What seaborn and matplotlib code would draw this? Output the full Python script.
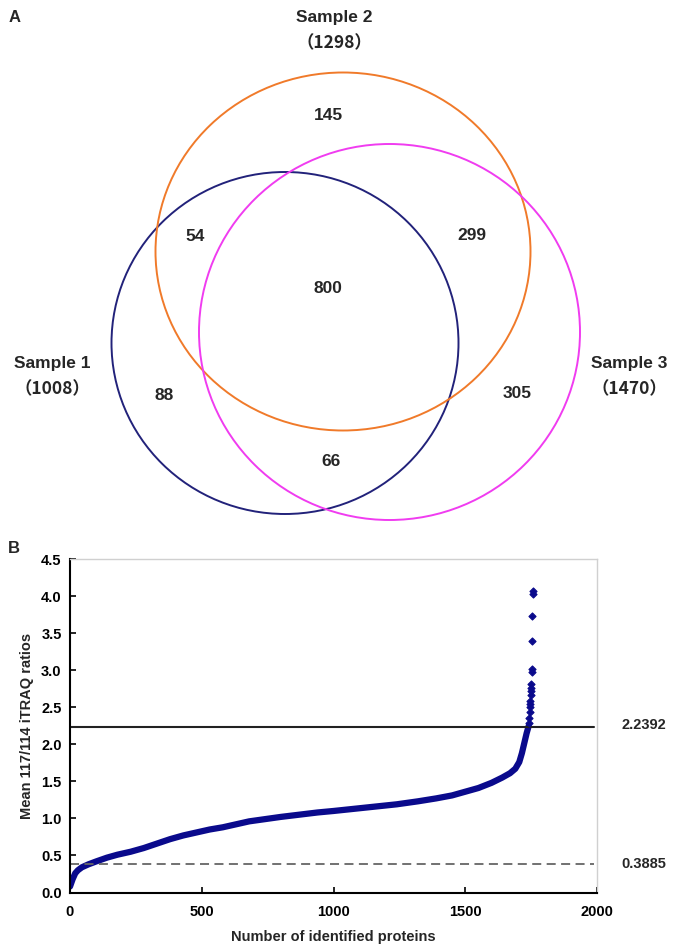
import matplotlib
matplotlib.use("Agg")
import matplotlib.pyplot as plt
from matplotlib.patches import Ellipse
import seaborn as sns
import pandas as pd

# ---------------- data ----------------
# Venn (panel A)
sample_names = ["Sample 1", "Sample 2", "Sample 3"]
sample_totals = [1008, 1298, 1470]
only_s1, only_s2, only_s3 = 88, 145, 305
s1_s2, s2_s3, s1_s3 = 54, 299, 66
all_three = 800

# Sorted mean ratio curve (panel B)
body_rank = [0, 5, 10, 20, 30, 45, 70, 100, 140, 180, 230, 280, 330, 380, 430,
             480, 530, 580, 630, 680, 740, 800, 870, 940, 1000, 1080, 1160,
             1240, 1320, 1390, 1450, 1500, 1550, 1600, 1640, 1670, 1690, 1705,
             1715, 1725, 1733, 1741]
body_ratio = [0.08, 0.13, 0.18, 0.26, 0.30, 0.34, 0.38, 0.42, 0.47, 0.51, 0.55,
              0.60, 0.66, 0.72, 0.77, 0.81, 0.85, 0.88, 0.92, 0.96, 0.99, 1.02,
              1.05, 1.08, 1.10, 1.13, 1.16, 1.19, 1.23, 1.27, 1.31, 1.36, 1.41,
              1.48, 1.55, 1.61, 1.67, 1.76, 1.88, 2.03, 2.15, 2.25]
tail_rank = [1742, 1743, 1744, 1745, 1746, 1747, 1748, 1749, 1750, 1751,
             1752, 1753, 1754, 1755, 1756, 1757]
tail_ratio = [2.29, 2.36, 2.43, 2.50, 2.54, 2.58, 2.67, 2.72, 2.76, 2.82,
              2.98, 3.01, 3.39, 3.73, 4.03, 4.07]
upper_cut = 2.2392
lower_cut = 0.3885
x_ticks = [0, 500, 1000, 1500, 2000]
y_ticks = [0.0, 0.5, 1.0, 1.5, 2.0, 2.5, 3.0, 3.5, 4.0, 4.5]

# ---------------- style ----------------
sns.set_style("white")
plt.rcParams["font.family"] = ["Liberation Sans", "Noto Sans CJK SC", "DejaVu Sans"]
plt.rcParams["font.weight"] = "bold"

W, H = 679, 947
fig = plt.figure(figsize=(W / 100, H / 100), dpi=100)

# ---------------- panel A: Venn ----------------
axv = fig.add_axes([0, 1 - 540 / H, 1, 540 / H])
axv.set_xlim(0, W)
axv.set_ylim(540, 0)
axv.axis("off")

circles = [
    ((285, 343), 347, 342, "#22227a"),   # Sample 1
    ((343, 251.5), 375, 358, "#f07a2a"),  # Sample 2
    ((389.5, 332), 381, 376, "#f03cf0"),  # Sample 3
]
for (c, w, h, col) in circles:
    axv.add_patch(Ellipse(c, w, h, fill=False, edgecolor=col, linewidth=1.4))

fs_big = 12.5
label_pos = [(52, 363, 389), (334, 17, 43), (629, 363, 389)]
for name, tot, (x, y1, y2) in zip(sample_names, sample_totals, label_pos):
    axv.text(x, y1, name, ha="center", va="center", fontsize=fs_big, fontweight="bold")
    axv.text(x, y2, f"（{tot}）", ha="center", va="center", fontsize=12.5,
             fontweight="bold", family=["Noto Sans CJK SC", "DejaVu Sans"])

region_vals = [only_s2, s1_s2, s2_s3, all_three, only_s1, only_s3, s1_s3]
region_pos = [(328, 115), (195, 236), (472, 235), (328, 288), (164, 395), (517, 393), (331, 461)]
for v, (x, y) in zip(region_vals, region_pos):
    axv.text(x, y, str(v), ha="center", va="center", fontsize=fs_big, fontweight="bold")

fig.text(15 / W, 1 - 17 / H, "A", ha="center", va="center", fontsize=12, fontweight="bold")
fig.text(14 / W, 1 - 548 / H, "B", ha="center", va="center", fontsize=12, fontweight="bold")

# ---------------- panel B: sorted ratios ----------------
left, right, top, bottom = 70, 597, 559, 892.5
ax = fig.add_axes([left / W, 1 - bottom / H, (right - left) / W, (bottom - top) / H])

navy = "#0a0a8c"
body = pd.DataFrame({"rank": body_rank, "ratio": body_ratio})
tail = pd.DataFrame({"rank": tail_rank, "ratio": tail_ratio})
sns.lineplot(data=body, x="rank", y="ratio", ax=ax, color=navy, linewidth=4.5,
             sort=False, solid_capstyle="round", solid_joinstyle="round")
sns.scatterplot(data=tail, x="rank", y="ratio", ax=ax, color=navy, marker="D",
                s=13, edgecolor=navy, linewidth=0.8, zorder=4)

ax.axhline(upper_cut, color="#222222", linewidth=1.5, xmin=0, xmax=0.995)
ax.axhline(lower_cut, color="#666666", linewidth=1.3, linestyle=(0, (5, 3)), xmin=0, xmax=0.995)

ax.set_xlim(0, 2000)
ax.set_ylim(0, 4.5)
ax.set_xticks(x_ticks)
ax.set_yticks(y_ticks)
ax.set_xticklabels([str(t) for t in x_ticks], fontsize=10.5, fontweight="bold")
ax.set_yticklabels([f"{t:.1f}" for t in y_ticks], fontsize=10.5, fontweight="bold")
ax.tick_params(axis="both", direction="in", length=4, width=1.2, colors="black",
               bottom=True, left=True, top=False, right=False, pad=6)
ax.tick_params(axis="x", pad=9)
ax.set_xlabel("Number of identified proteins", fontsize=10.5, fontweight="bold", labelpad=8)
ax.set_ylabel("Mean 117/114 iTRAQ ratios", fontsize=10.5, fontweight="bold", labelpad=5)

for s in ["left", "bottom"]:
    ax.spines[s].set_color("black")
    ax.spines[s].set_linewidth(1.5)
for s in ["top", "right"]:
    ax.spines[s].set_color("#d0d0d0")
    ax.spines[s].set_linewidth(1.0)

fig.text(644 / W, 1 - 725 / H, f"{upper_cut:.4f}", ha="center", va="center",
         fontsize=10.5, fontweight="bold")
fig.text(644 / W, 1 - 864 / H, f"{lower_cut:.4f}", ha="center", va="center",
         fontsize=10.5, fontweight="bold")

fig.savefig("out.png", dpi=100)
